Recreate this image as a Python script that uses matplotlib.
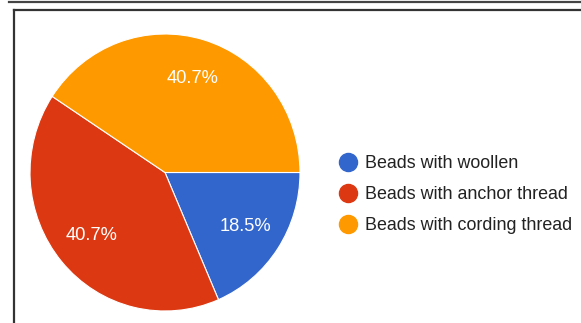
import matplotlib
matplotlib.use('Agg')
import matplotlib.pyplot as plt
from matplotlib.lines import Line2D

labels = ['Beads with woollen', 'Beads with anchor thread', 'Beads with cording thread']
values = [18.5, 40.7, 40.7]
colors = ['#3366CC', '#DC3912', '#FF9900']

plt.rcParams['font.family'] = 'Liberation Sans'

W, H = 581, 323
fig = plt.figure(figsize=(W / 100, H / 100), dpi=100)

# pie area in pixels: x 30..300, y 34..311 (slightly taller than wide)
left, right, top, bottom = 30, 300, 34, 311
ax = fig.add_axes([left / W, (H - bottom) / H, (right - left) / W, (bottom - top) / H])
wedges, texts, autotexts = ax.pie(values, colors=colors, startangle=0, counterclock=False,
                                  autopct='%1.1f%%', pctdistance=0.71,
                                  wedgeprops=dict(edgecolor='white', linewidth=0.8),
                                  textprops=dict(color='white', fontsize=13.2))
ax.set_aspect('auto')
ax.set_xlim(-1, 1)
ax.set_ylim(-1, 1)
ax.axis('off')

handles = [Line2D([], [], marker='o', linestyle='none', markersize=13,
                  markerfacecolor=c, markeredgecolor=c) for c in colors]
leg = fig.legend(handles, labels, loc='center left', bbox_to_anchor=(339 / W, (H - 194.5) / H),
                 frameon=False, fontsize=12.9, handlelength=1.0, handletextpad=0.45,
                 labelspacing=0.78, borderpad=0, borderaxespad=0)
for t in leg.get_texts():
    t.set_color('#222222')

# frame lines of the screenshot
fig.add_artist(Line2D([9 / W, 1], [(H - 1.8) / H] * 2, color='#444444', lw=1.6))
fig.add_artist(Line2D([13.5 / W, 1], [(H - 9.5) / H] * 2, color='#333333', lw=1.6))
fig.add_artist(Line2D([13.5 / W] * 2, [0, (H - 9.5) / H], color='#333333', lw=1.6))

fig.savefig('out.png', dpi=100)
